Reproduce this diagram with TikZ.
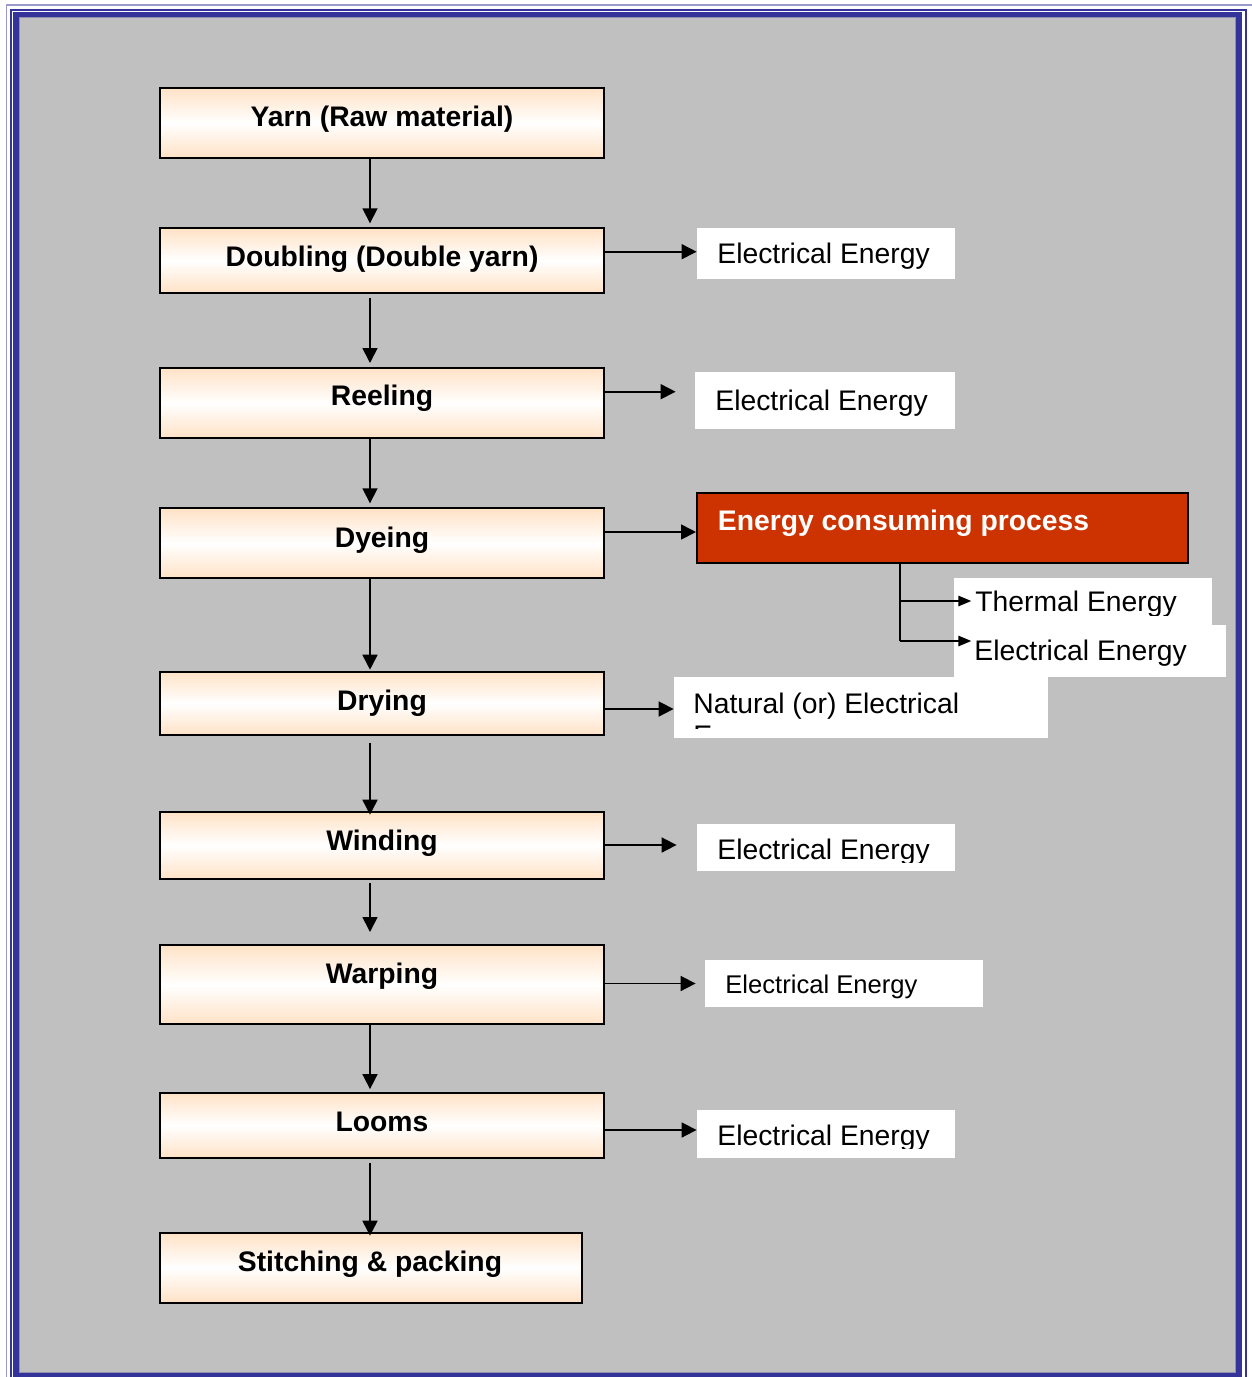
\documentclass[tikz,border=0pt]{standalone}
\usepackage{fontspec}
\setmainfont{Liberation Sans}
\usetikzlibrary{arrows.meta}
\definecolor{peach}{HTML}{FFE2C6}
\definecolor{framebl}{HTML}{333399}
\definecolor{framelt}{HTML}{9999CC}
\definecolor{panel}{HTML}{C0C0C0}
\definecolor{panelrim}{HTML}{8F8FB0}
\definecolor{hotred}{HTML}{CC3300}
\tikzset{
  procbox/.style={draw=black, line width=1pt, top color=peach, bottom color=peach,
    middle color=white, inner sep=0pt},
  proclabel/.style={font=\bfseries\fontsize{14.15}{17}\selectfont, inner sep=0pt, anchor=base},
  energybox/.style={fill=white, draw=none, inner sep=0pt},
  energylabel/.style={font=\fontsize{14.15}{17}\selectfont, inner sep=0pt, anchor=base west},
  flow/.style={line width=0.85pt, -{Triangle[length=7.5pt,width=7.5pt]}},
  branch/.style={line width=0.85pt, -{Triangle[length=6.5pt,width=5.2pt]}},
}
\begin{document}
\begin{tikzpicture}[x=0.5pt,y=-0.5pt]
\useasboundingbox (0,0) rectangle (1252,1377);
% page frame
\fill[white] (0,0) rectangle (1252,1377);
\draw[framelt, line width=0.7pt] (6.7,1400) |- (1270,5);
\draw[framebl, line width=1pt] (11,1400) |- (1245.6,10) -- (1245.6,1400);
\fill[framebl] (13.3,11.7) rectangle (1242,1400);
\fill[panel] (19,17) rectangle (1235,1372.5);
\draw[panelrim, line width=0.5pt] (19,17) rectangle (1235,1372.5);

% process chain
\node[procbox, minimum width=222pt, minimum height=34.75pt] (yarn)      at (382,122.75) {};
\node[procbox, minimum width=222pt, minimum height=32.2pt]  (doubling)  at (382,260.5) {};
\node[procbox, minimum width=222pt, minimum height=35pt]    (reeling)   at (382,403) {};
\node[procbox, minimum width=222pt, minimum height=35pt]    (dyeing)    at (382,543.3) {};
\node[procbox, minimum width=222pt, minimum height=31.7pt]  (drying)    at (382,703.4) {};
\node[procbox, minimum width=222pt, minimum height=33.7pt]  (winding)   at (382,845.4) {};
\node[procbox, minimum width=222pt, minimum height=39.7pt]  (warping)   at (382,984.7) {};
\node[procbox, minimum width=222pt, minimum height=32.8pt]  (looms)     at (382,1125.5) {};
\node[procbox, minimum width=211pt, minimum height=35pt]    (stitching) at (371,1267.7) {};

\node[proclabel] (yarnT)      at (382,126.7)  {Yarn (Raw material)};
\node[proclabel] (doublingT)  at (382,266.7)  {Doubling (Double yarn)};
\node[proclabel] (reelingT)   at (382,405.7)  {Reeling};
\node[proclabel] (dyeingT)    at (382,547.3)  {Dyeing};
\node[proclabel] (dryingT)    at (382,710.7)  {Drying};
\node[proclabel] (windingT)   at (382,850.7)  {Winding};
\node[proclabel] (warpingT)   at (382,983.3)  {Warping};
\node[proclabel] (loomsT)     at (382,1131.7) {Looms};
\node[proclabel] (stitchingT) at (370,1271.7) {Stitching \& packing};

% energy boxes
\node[energybox, minimum width=129pt, minimum height=25.5pt]  (eDoub) at (826,253.5) {};
\node[energybox, minimum width=130pt, minimum height=28.35pt] (eReel) at (825,400.65) {};
\node[draw=black, line width=1pt, fill=hotred, inner sep=0pt,
      minimum width=245.5pt, minimum height=35pt] (energy) at (942.5,528) {};
\node[energybox, minimum width=129pt, minimum height=23.35pt] (tRect) at (1083,601.65) {};
\node[energybox, minimum width=136pt, minimum height=26pt]    (eDye)  at (1090,651) {};
\node[energybox, minimum width=187pt, minimum height=30.35pt] (nRect) at (861,707.35) {};
\node[energybox, minimum width=129pt, minimum height=23.35pt] (eWind) at (826,847.35) {};
\node[energybox, minimum width=139pt, minimum height=23.35pt] (eWarp) at (844,983.35) {};
\node[energybox, minimum width=129pt, minimum height=24pt]    (eLoom) at (826,1134) {};

\node[energylabel] (eDoubT) at (717,263.3) {Electrical Energy};
\node[energylabel] (eReelT) at (715,410) {Electrical Energy};
\node[energylabel, text=white, font=\bfseries\fontsize{14.15}{17}\selectfont] (energyT) at (717.5,530.7) {Energy consuming process};
\begin{scope}
  \clip (940,570) rectangle (1240,615);
  \node[energylabel] (tRectT) at (975,611.7) {Thermal Energy};
\end{scope}
\node[energylabel] (eDyeT) at (974,660) {Electrical Energy};
\begin{scope}
  \clip (670,670) rectangle (1060,728);
  \node[energylabel] (nRectT) at (693,713.3) {Natural (or) Electrical};
  \node[energylabel] (nRectT2) at (693,745.3) {Energy};
\end{scope}
\begin{scope}
  \clip (690,815) rectangle (960,862);
  \node[energylabel] (eWindT) at (717,859.5) {Electrical Energy};
\end{scope}
\node[energylabel, font=\fontsize{12.8}{15}\selectfont] (eWarpT) at (725,993.3) {Electrical Energy};
\begin{scope}
  \clip (690,1100) rectangle (960,1148);
  \node[energylabel] (eLoomT) at (717,1145) {Electrical Energy};
\end{scope}

% vertical flow
\coordinate (ax) at (370,0);
\draw[flow, shorten >=2pt] (yarn.south -| ax) -- (doubling.north -| ax);
\draw[flow, shorten <=2pt, shorten >=2pt] (doubling.south -| ax) -- (reeling.north -| ax);
\draw[flow, shorten >=2pt] (reeling.south -| ax) -- (dyeing.north -| ax);
\draw[flow, shorten >=0.5pt] (dyeing.south -| ax) -- (drying.north -| ax);
\draw[flow, shorten <=3.5pt, shorten >=-2pt] (drying.south -| ax) -- (winding.north -| ax);
\draw[flow, shorten <=1.3pt, shorten >=6pt] (winding.south -| ax) -- (warping.north -| ax);
\draw[flow, shorten <=-1pt, shorten >=1.3pt] (warping.south -| ax) -- (looms.north -| ax);
\draw[flow, shorten <=1.7pt, shorten >=-2pt] (looms.south -| ax) -- (stitching.north -| ax);

% energy arrows
\coordinate (hDoub) at (0,251.7);
\coordinate (hReel) at (0,391.7);
\coordinate (hDye)  at (0,532);
\coordinate (hDry)  at (0,709);
\coordinate (hWind) at (0,845);
\coordinate (hWarp) at (0,983.5);
\coordinate (hLoom) at (0,1130);
\draw[flow] (doubling.east |- hDoub) -- (eDoub.west |- hDoub);
\draw[flow, shorten >=9.5pt] (reeling.east |- hReel) -- (eReel.west |- hReel);
\draw[flow] (dyeing.east |- hDye) -- (energy.west |- hDye);
\draw[flow] (drying.east |- hDry) -- (nRect.west |- hDry);
\draw[flow, shorten >=10pt] (winding.east |- hWind) -- (eWind.west |- hWind);
\draw[flow, shorten >=4.5pt] (warping.east |- hWarp) -- (eWarp.west |- hWarp);
\draw[flow] (looms.east |- hLoom) -- (eLoom.west |- hLoom);

% branches below the energy consuming process
\coordinate (bx)  at (900,0);
\coordinate (hTh) at (0,601);
\coordinate (hEl) at (0,641);
\draw[line width=0.85pt] (energy.south -| bx) -- (bx |- hEl);
\draw[branch, shorten >=-8.85pt] (bx |- hTh) -- (tRect.west |- hTh);
\draw[branch, shorten >=-8.85pt] (bx |- hEl) -- (eDye.west |- hEl);
\end{tikzpicture}
\end{document}
